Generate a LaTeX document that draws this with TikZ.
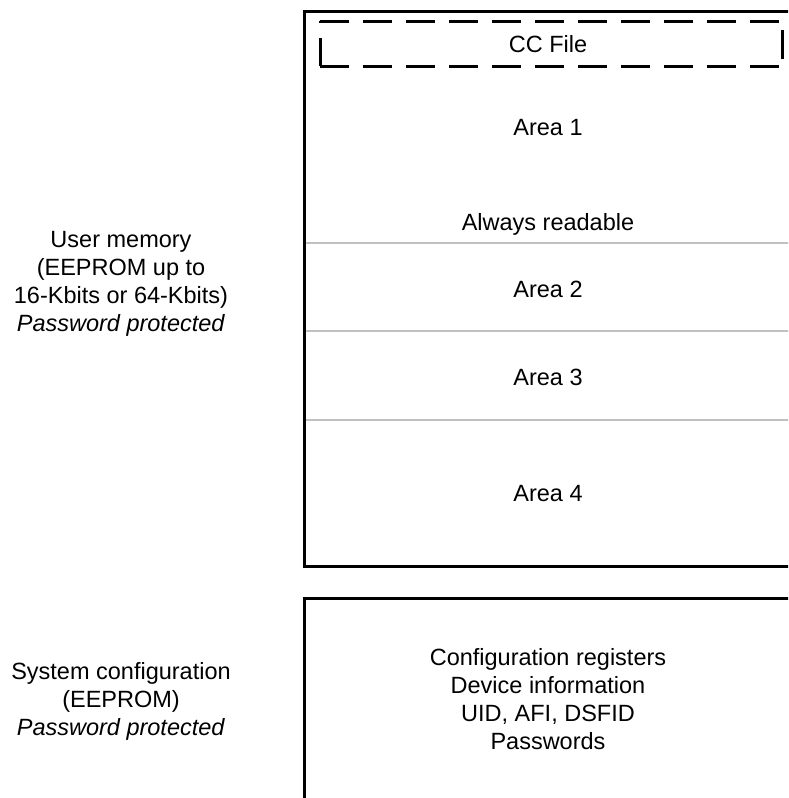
\documentclass[tikz,border=0pt]{standalone}
\usepackage{fontspec}
\setmainfont{Liberation Sans}
\definecolor{divgray}{HTML}{C0C0C0}
\begin{document}
\begin{tikzpicture}[x=1pt,y=-1pt,
  lbl/.style={font=\fontsize{23.5}{28}\selectfont, inner sep=0pt, align=center},
  border/.style={line width=3pt, draw=black},
  divider/.style={line width=2.3pt, draw=divgray},
  ccdash/.style={line width=3pt, dash pattern=on 28.5pt off 14.5pt}]
\useasboundingbox (0,0) rectangle (788,798);
\clip (0,0) rectangle (788,798);
% memory blocks
\draw[border] (304,11) rectangle (800,566.5);
\draw[border] (304,598.5) rectangle (800,830);
% dividers
\coordinate (d1l) at (305.5,243); \coordinate (d1r) at (800,243);
\coordinate (d2l) at (305.5,331); \coordinate (d2r) at (800,331);
\coordinate (d3l) at (305.5,420); \coordinate (d3r) at (800,420);
\draw[divider] (d1l) -- (d1r);
\draw[divider] (d2l) -- (d2r);
\draw[divider] (d3l) -- (d3r);
% CC file dashed frame
\coordinate (ccA) at (320,21); \coordinate (ccB) at (782.7,21);
\coordinate (ccC) at (782.7,66); \coordinate (ccD) at (320,66);
\draw[ccdash] (ccA) -- (ccB);
\draw[ccdash] (ccD) -- (ccC);
\draw[ccdash] (ccD) -- (ccA);
\draw[ccdash, dash phase=34pt] (ccB) -- (ccC);
% texts in user memory
\node[lbl, anchor=base] (cc) at (548,52.5) {CC File};
\node[lbl, anchor=base] (a1) at (548,135.5) {Area 1};
\node[lbl, anchor=base] (ar) at (548,230) {Always readable};
\node[lbl, anchor=base] (a2) at (548,297.5) {Area 2};
\node[lbl, anchor=base] (a3) at (548,385.5) {Area 3};
\node[lbl, anchor=base] (a4) at (548,501.5) {Area 4};
% system config text
\node[lbl] (sys) at (548,699.5) {Configuration registers\\Device information\\UID, AFI, DSFID\\Passwords};
% left labels
\node[lbl] (um) at (121,284) {User memory\\(EEPROM up to\\16-Kbits or 64-Kbits)\\\textit{Password protected}};
\node[lbl] (sc) at (121,701) {System configuration\\(EEPROM)\\\textit{Password protected}};
\end{tikzpicture}
\end{document}
